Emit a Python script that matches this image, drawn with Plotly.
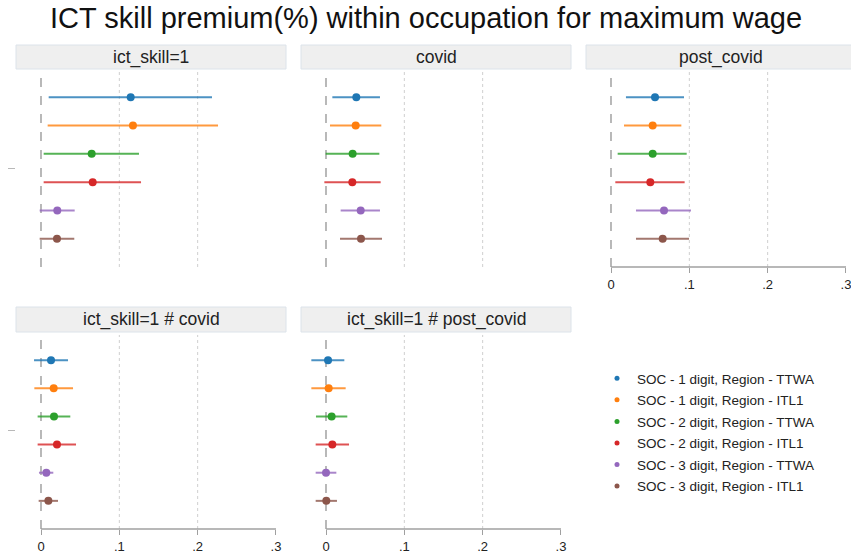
import plotly.graph_objects as go

# ---------------- data ----------------
series = [
    "SOC - 1 digit, Region - TTWA",
    "SOC - 1 digit, Region - ITL1",
    "SOC - 2 digit, Region - TTWA",
    "SOC - 2 digit, Region - ITL1",
    "SOC - 3 digit, Region - TTWA",
    "SOC - 3 digit, Region - ITL1",
]
colors = ["#1f77b4", "#ff7f0e", "#2ca02c", "#d62728", "#9467bd", "#8c564b"]
line_colors = ["rgba(31,119,180,0.8)", "rgba(255,127,14,0.8)", "rgba(44,160,44,0.8)",
               "rgba(214,39,40,0.8)", "rgba(148,103,189,0.8)", "rgba(140,86,75,0.8)"]
rows = [1, 2, 3, 4, 5, 6]

panel_titles = ["ict_skill=1", "covid", "post_covid", "ict_skill=1 # covid", "ict_skill=1 # post_covid"]

est_ict = [0.1145, 0.1174, 0.0647, 0.0660, 0.0208, 0.0204]
lo_ict = [0.0098, 0.0085, 0.0034, 0.0034, -0.0017, -0.0017]
hi_ict = [0.2183, 0.2260, 0.1251, 0.1277, 0.0430, 0.0425]

est_covid = [0.0387, 0.0379, 0.0340, 0.0336, 0.0443, 0.0447]
lo_covid = [0.0081, 0.0051, -0.0004, -0.0021, 0.0187, 0.0179]
hi_covid = [0.0689, 0.0706, 0.0681, 0.0698, 0.0689, 0.0715]

est_post = [0.0562, 0.0532, 0.0532, 0.0502, 0.0677, 0.0660]
lo_post = [0.0191, 0.0166, 0.0085, 0.0055, 0.0319, 0.0319]
hi_post = [0.0932, 0.0898, 0.0966, 0.0940, 0.1021, 0.0996]

est_ict_covid = [0.0128, 0.0162, 0.0166, 0.0204, 0.0068, 0.0094]
lo_ict_covid = [-0.0089, -0.0085, -0.0043, -0.0043, -0.0026, -0.0030]
hi_ict_covid = [0.0345, 0.0409, 0.0374, 0.0447, 0.0157, 0.0217]

est_ict_post = [0.0026, 0.0034, 0.0072, 0.0081, 0.0000, 0.0004]
lo_ict_post = [-0.0187, -0.0187, -0.0128, -0.0132, -0.0132, -0.0132]
hi_ict_post = [0.0234, 0.0251, 0.0272, 0.0294, 0.0132, 0.0140]

tick_vals = [0, 0.1, 0.2, 0.3]
tick_text = ["0", ".1", ".2", ".3"]
grid_vals = [0.1, 0.2]

panel_data = [
    (est_ict, lo_ict, hi_ict),
    (est_covid, lo_covid, hi_covid),
    (est_post, lo_post, hi_post),
    (est_ict_covid, lo_ict_covid, hi_ict_covid),
    (est_ict_post, lo_ict_post, hi_ict_post),
]

# ---------------- layout geometry (pixels) ----------------
W, H = 851, 554
px_per_unit = 783.3
panel_x = [(16, 286), (301, 571), (586, 851), (16, 286), (301, 571)]
panel_y = [(69, 267), (69, 267), (69, 267), (332, 529), (332, 529)]
strip_y = [(45, 69), (45, 69), (45, 69), (307, 332), (307, 332)]
show_xaxis = [False, False, True, True, True]
show_ytick = [True, False, False, True, False]

FONT = "Liberation Sans, Arial, Helvetica, sans-serif"

fig = go.Figure()
shapes = []
annotations = []
layout_axes = {}

for p in range(5):
    sfx = "" if p == 0 else str(p + 1)
    xname, yname = "x" + sfx, "y" + sfx
    x0, x1 = panel_x[p]
    y0, y1 = panel_y[p]
    left = -25 / px_per_unit
    right = left + (x1 - x0) / px_per_unit

    layout_axes["xaxis" + sfx] = dict(
        domain=[x0 / W, x1 / W], range=[left, right], anchor=yname,
        showgrid=False, zeroline=False, showline=False,
        tickvals=tick_vals if show_xaxis[p] else [],
        ticktext=tick_text if show_xaxis[p] else [],
        ticks="outside" if show_xaxis[p] else "", ticklen=5, tickwidth=1.2, tickcolor="#a0a0a0",
        tickfont=dict(family=FONT, size=13, color="#222"),
        showticklabels=show_xaxis[p], ticklabeloverflow="allow", fixedrange=True,
    )
    layout_axes["yaxis" + sfx] = dict(
        domain=[1 - y1 / H, 1 - y0 / H], range=[7, 0], anchor=xname,
        showgrid=False, zeroline=False, showline=False,
        tickvals=[3.5] if show_ytick[p] else [], ticktext=[""] if show_ytick[p] else [],
        ticks="outside" if show_ytick[p] else "", ticklen=7, tickwidth=1.2, tickcolor="#b8b8b8",
        showticklabels=False, fixedrange=True,
    )

    # gridlines (dotted)
    for g in grid_vals:
        shapes.append(dict(type="line", xref=xname, yref=yname + " domain", x0=g, x1=g, y0=0, y1=0.985,
                           line=dict(color="#cfcfcf", width=1, dash="dot"), layer="below"))
    # reference line at 0 (dashed)
    shapes.append(dict(type="line", xref=xname, yref=yname + " domain", x0=0, x1=0, y0=0, y1=0.985,
                       line=dict(color="#8a8a8a", width=1.2, dash="dash"), layer="below"))
    # x axis line
    if show_xaxis[p]:
        shapes.append(dict(type="line", xref=xname, yref=yname + " domain", x0=tick_vals[0], x1=tick_vals[-1],
                           y0=0, y1=0, line=dict(color="#a0a0a0", width=1.3)))
    # strip
    sy0, sy1 = strip_y[p]
    shapes.append(dict(type="rect", xref="paper", yref="paper", x0=x0 / W, x1=x1 / W + (0.01 if p == 2 else 0),
                       y0=1 - sy1 / H, y1=1 - sy0 / H,
                       fillcolor="#efefef", line=dict(color="#dce3ea", width=1), layer="below"))
    annotations.append(dict(text=panel_titles[p], xref="paper", yref="paper",
                            x=((x0 + x1) / 2) / W if p != 2 else ((x0 + 856) / 2) / W,
                            y=1 - ((sy0 + sy1) / 2) / H, xanchor="center", yanchor="middle",
                            showarrow=False, font=dict(family=FONT, size=17.5, color="#222")))

    est, lo, hi = panel_data[p]
    for i in range(len(series)):
        fig.add_trace(go.Scatter(
            x=[est[i]], y=[rows[i]], xaxis=xname, yaxis=yname, mode="markers",
            marker=dict(color=colors[i], size=8),
            error_x=dict(type="data", symmetric=False, array=[hi[i] - est[i]], arrayminus=[est[i] - lo[i]],
                         color=line_colors[i], thickness=2, width=0),
            showlegend=False, hoverinfo="skip",
        ))

# legend keys
for i in range(len(series)):
    fig.add_trace(go.Scatter(x=[None], y=[None], mode="markers", name=series[i],
                             marker=dict(color=colors[i], size=5), legendgroup="g%d" % i,
                             showlegend=True))

annotations.append(dict(text="ICT skill premium(%) within occupation for maximum wage",
                        xref="paper", yref="paper", x=426 / W, y=1 - 18 / H,
                        xanchor="center", yanchor="middle", showarrow=False,
                        font=dict(family=FONT, size=29, color="#111")))

fig.update_layout(
    width=W, height=H, margin=dict(l=0, r=0, t=0, b=0),
    paper_bgcolor="white", plot_bgcolor="white",
    shapes=shapes, annotations=annotations,
    showlegend=True,
    legend=dict(x=597 / W, y=1 - 363 / H, xanchor="left", yanchor="top",
                font=dict(family=FONT, size=13.5, color="#222"),
                tracegroupgap=1, itemwidth=30, bgcolor="rgba(0,0,0,0)"),
    **layout_axes,
)

fig.write_html("out.html")
